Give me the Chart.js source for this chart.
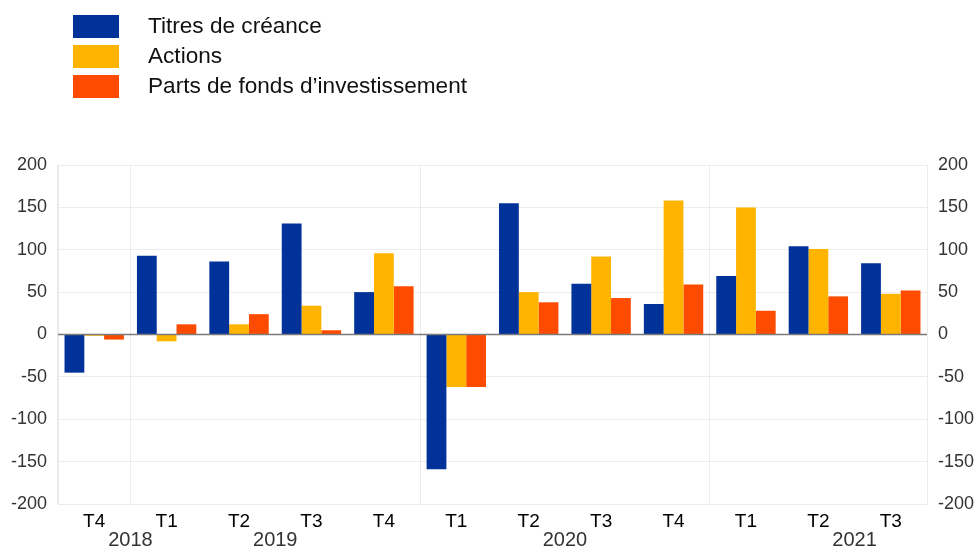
<!DOCTYPE html>
<html lang="fr">
<head>
    <meta charset="UTF-8">
    <title>Titres de créance, actions, parts de fonds</title>
    <script src="https://cdn.jsdelivr.net/npm/chart.js"></script>
    <style>
        body { margin: 0; background: #fff; }
    </style>
</head>
<body>
    <canvas id="chart" width="977" height="551"></canvas>

    <script>
        // données
        const quarters = ['T4', 'T1', 'T2', 'T3', 'T4', 'T1', 'T2', 'T3', 'T4', 'T1', 'T2', 'T3'];
        const years = ['2018', '2019', '2020', '2021'];
        const titres = [-45, 93, 86, 131, 50, -159, 155, 60, 36, 69, 104, 84];
        const actions = [-1.5, -8, 12, 34, 96, -62, 50, 92, 158, 150, 101, 48];
        const fonds = [-6, 12, 24, 5, 57, -62, 38, 43, 59, 28, 45, 52];
        const seriesNames = ['Titres de créance', 'Actions', "Parts de fonds d\u2019investissement"];
        const yTicks = [-200, -150, -100, -50, 0, 50, 100, 150, 200];

        const colors = ['#003299', '#FFB400', '#FF4B00'];
        const FONT = '"Liberation Sans", Arial, sans-serif';

        // where each year label sits, in category units
        const yearAt = [0.5, 2.5, 6.5, 10.5];
        // category indices where a new year starts (vertical separators)
        const yearStarts = [1, 5, 9];

        const extras = {
            id: 'extras',
            afterDatasetsDraw(chart) {
                const ctx = chart.ctx;
                const area = chart.chartArea;
                const y0 = chart.scales.y.getPixelForValue(0);
                ctx.save();
                ctx.strokeStyle = '#7a7a7a';
                ctx.lineWidth = 1.5;
                ctx.beginPath();
                ctx.moveTo(area.left, y0);
                ctx.lineTo(area.right, y0);
                ctx.stroke();
                ctx.restore();
            },
            afterDraw(chart) {
                const ctx = chart.ctx;
                const x = chart.scales.x;
                ctx.save();
                // year labels
                ctx.font = '20px ' + FONT;
                ctx.fillStyle = '#333';
                ctx.textAlign = 'center';
                ctx.textBaseline = 'middle';
                years.forEach((yr, i) => {
                    ctx.fillText(yr, x.getPixelForValue(yearAt[i]), 540);
                });
                // legend
                ctx.font = '22.6px ' + FONT;
                ctx.textAlign = 'left';
                chart.data.datasets.forEach((ds, i) => {
                    const top = 15 + i * 30;
                    ctx.fillStyle = ds.backgroundColor;
                    ctx.fillRect(73, top, 46, 23);
                    ctx.fillStyle = '#111';
                    ctx.fillText(ds.label, 148, top + 12);
                });
                ctx.restore();
            }
        };

        const tickOpts = {
            stepSize: 50,
            padding: 11,
            color: '#333',
            font: { family: FONT, size: 18 }
        };

        new Chart(document.getElementById('chart'), {
            type: 'bar',
            data: {
                labels: quarters,
                datasets: [
                    { label: seriesNames[0], data: titres, backgroundColor: colors[0] },
                    { label: seriesNames[1], data: actions, backgroundColor: colors[1] },
                    { label: seriesNames[2], data: fonds, backgroundColor: colors[2] }
                ]
            },
            options: {
                responsive: false,
                animation: false,
                layout: { padding: { top: 165, left: 0, right: 0, bottom: 0 } },
                datasets: {
                    bar: { categoryPercentage: 0.82, barPercentage: 1, borderWidth: 0 }
                },
                plugins: {
                    legend: { display: false },
                    tooltip: { enabled: false }
                },
                scales: {
                    x: {
                        offset: true,
                        grid: {
                            offset: true,
                            drawTicks: false,
                            color: c => (yearStarts.includes(c.index) || c.index === 0) ? '#ececec' : 'rgba(0,0,0,0)'
                        },
                        border: { display: false },
                        ticks: { padding: 6, color: '#000', font: { family: FONT, size: 19 } },
                        afterFit: s => { s.height = 47; }
                    },
                    y: {
                        position: 'left',
                        min: -200,
                        max: 200,
                        afterBuildTicks: s => { s.ticks = yTicks.map(v => ({ value: v })); },
                        grid: { color: '#ececec', drawTicks: false },
                        border: { color: '#ececec' },
                        ticks: tickOpts,
                        afterFit: s => { s.width = 58; }
                    },
                    y2: {
                        position: 'right',
                        min: -200,
                        max: 200,
                        afterBuildTicks: s => { s.ticks = yTicks.map(v => ({ value: v })); },
                        grid: { display: false, drawTicks: false },
                        border: { color: '#ececec' },
                        ticks: tickOpts,
                        afterFit: s => { s.width = 50; }
                    }
                }
            },
            plugins: [extras]
        });
    </script>
</body>
</html>
